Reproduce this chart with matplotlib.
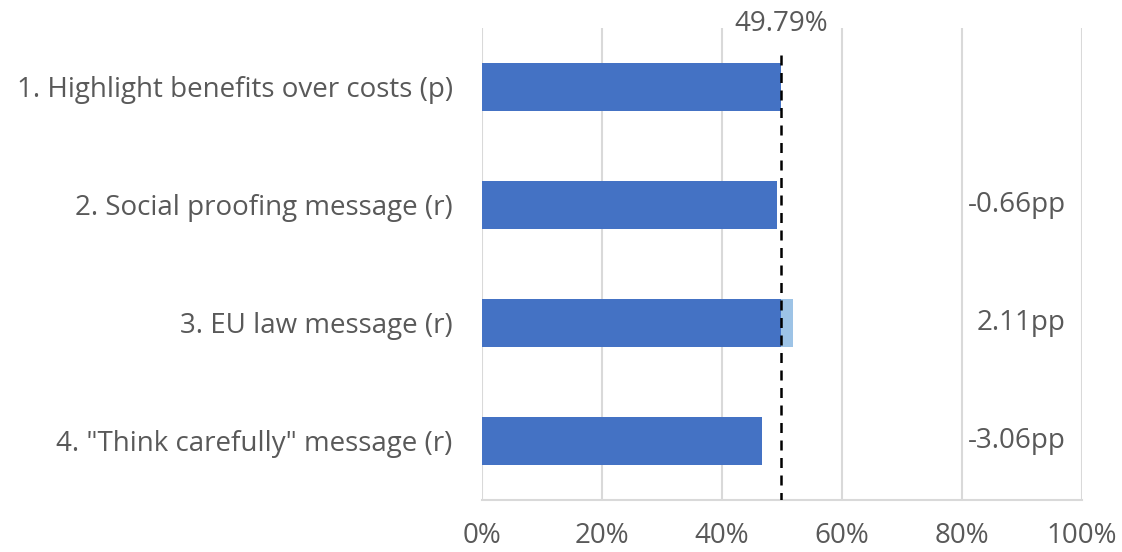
import numpy as np
import matplotlib.pyplot as plt

plt.rcParams['font.family'] = ['Open Sans', 'DejaVu Sans']

labels = ['1. Highlight benefits over costs (p)', '2. Social proofing message (r)',
          '3. EU law message (r)', '4. "Think carefully" message (r)']
baseline = 49.79
diff_pp = [0.0, -0.66, 2.11, -3.06]
diff_labels = ['', '-0.66pp', '2.11pp', '-3.06pp']
xticks = [0, 20, 40, 60, 80, 100]

dark = '#4472C4'
light = '#9DC3E6'
txt = '#595959'
fs = 20

values = [baseline + d for d in diff_pp]
dark_part = [min(v, baseline) for v in values]
light_part = [max(v - baseline, 0) for v in values]

fig = plt.figure(figsize=(11.22, 5.52), dpi=100)
ax = fig.add_axes([482 / 1122, 1 - 500 / 552, 600 / 1122, 472 / 552])

y = np.arange(len(labels))
ax.barh(y, dark_part, height=0.4, color=dark, zorder=2)
ax.barh(y, light_part, left=dark_part, height=0.4, color=light, zorder=2)

ax.vlines(baseline, -0.27, 3.5, colors='black', linestyles=(0, (4, 3)), linewidth=1.8, zorder=3)
ax.text(baseline, -0.53, f'{baseline:.2f}%', ha='center', va='center', fontsize=fs, color=txt)

for yi, lab in zip(y, diff_labels):
    if lab:
        ax.text(97.3, yi, lab, ha='right', va='center', fontsize=fs, color=txt)

ax.set_xlim(0, 100)
ax.set_ylim(3.5, -0.5)
ax.set_xticks(xticks)
ax.set_xticklabels([f'{t}%' for t in xticks])
ax.set_yticks(y)
ax.set_yticklabels(labels)
ax.tick_params(axis='both', length=0, labelsize=fs, labelcolor=txt)
ax.tick_params(axis='x', pad=16)
ax.tick_params(axis='y', pad=21)
ax.xaxis.grid(True, color='#D9D9D9', linewidth=1.5, zorder=0)
ax.set_axisbelow(True)
for s in ['top', 'right', 'left']:
    ax.spines[s].set_visible(False)
ax.spines['bottom'].set_color('#D9D9D9')
ax.spines['bottom'].set_linewidth(1.5)

fig.savefig('out.png', dpi=100)
